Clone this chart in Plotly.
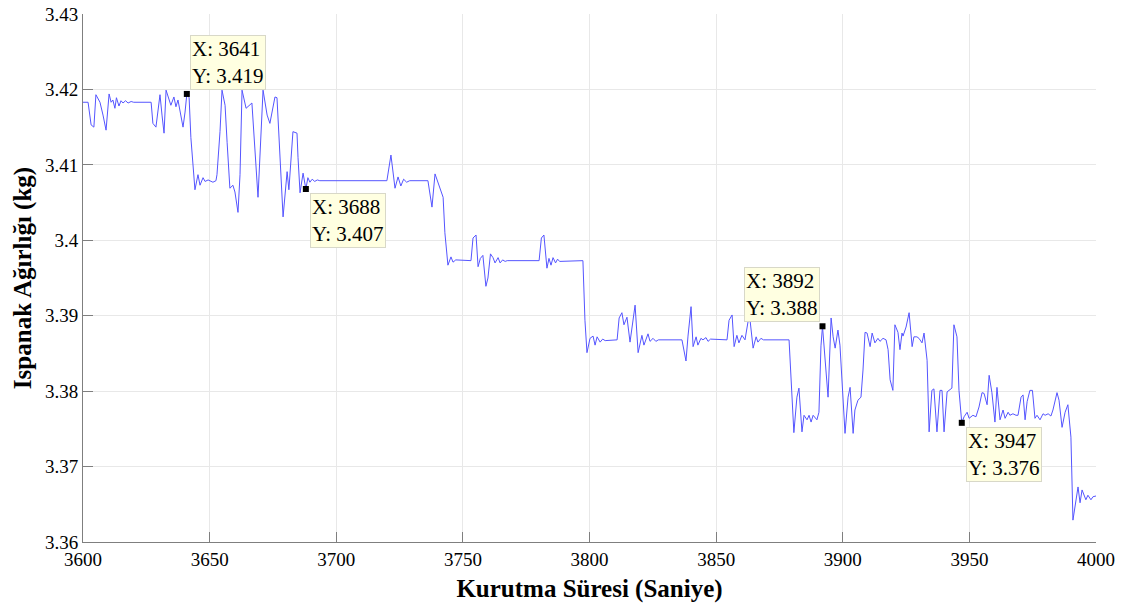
import plotly.graph_objects as go

# Time (s) and weight (kg) vertices
time_s = [
    3600.0, 3602.0, 3603.2, 3604.3, 3605.1, 3606.7, 3607.9, 3609.1, 3610.3, 3611.1,
    3611.8, 3612.6, 3613.2, 3614.2, 3615.0, 3615.8, 3616.8, 3617.8, 3619.0, 3620.0,
    3626.9, 3627.6, 3628.8, 3630.4, 3631.2, 3632.0, 3632.8, 3634.0, 3634.7, 3635.9,
    3636.7, 3637.5, 3638.7, 3639.5, 3640.3, 3641.0, 3641.9, 3642.6, 3644.2, 3645.4,
    3646.2, 3647.4, 3648.2, 3649.4, 3651.3, 3652.5, 3652.9, 3654.1, 3654.9, 3656.1,
    3656.9, 3658.0, 3659.2, 3660.0, 3661.2, 3662.0, 3662.8, 3664.4, 3666.7, 3669.1,
    3671.1, 3672.7, 3673.8, 3675.8, 3676.6, 3677.4, 3679.0, 3680.6, 3681.3, 3682.9,
    3684.5, 3684.9, 3685.7, 3686.9, 3688.0, 3688.8, 3689.6, 3690.5, 3691.5, 3692.5,
    3693.5, 3720.0, 3721.6, 3723.2, 3724.4, 3725.5, 3726.6, 3727.8, 3729.0, 3736.2,
    3737.8, 3739.0, 3740.2, 3742.2, 3742.9, 3744.1, 3745.3, 3746.1, 3747.2, 3753.2,
    3754.0, 3755.2, 3756.0, 3756.9, 3757.9, 3759.1, 3759.9, 3760.9, 3761.9, 3762.7,
    3763.9, 3764.7, 3765.7, 3766.7, 3767.5, 3780.1, 3781.0, 3782.0, 3783.2, 3784.0,
    3784.8, 3785.6, 3786.6, 3787.4, 3788.2, 3797.4, 3798.2, 3799.0, 3800.2, 3801.4,
    3802.2, 3803.0, 3804.2, 3805.2, 3806.2, 3810.9, 3811.7, 3812.8, 3813.6, 3814.8,
    3816.0, 3818.0, 3819.2, 3820.7, 3821.5, 3823.1, 3823.9, 3825.1, 3826.2, 3827.2,
    3836.5, 3838.1, 3838.9, 3840.1, 3840.9, 3842.1, 3842.8, 3844.0, 3844.8, 3846.0,
    3846.8, 3847.8, 3854.3, 3855.1, 3856.3, 3857.1, 3858.2, 3859.0, 3860.2, 3861.4,
    3862.6, 3863.4, 3864.6, 3865.8, 3866.5, 3867.7, 3868.7, 3878.8, 3880.7, 3881.9,
    3882.7, 3883.9, 3884.7, 3885.9, 3886.7, 3887.5, 3888.3, 3889.8, 3890.6, 3891.4,
    3892.0, 3893.4, 3894.2, 3895.4, 3896.2, 3897.0, 3898.1, 3898.9, 3899.7, 3900.9,
    3902.1, 3902.9, 3904.1, 3904.8, 3906.0, 3907.2, 3908.0, 3908.8, 3909.6, 3910.8,
    3911.6, 3912.7, 3913.9, 3914.7, 3915.9, 3917.1, 3917.9, 3918.7, 3919.8, 3920.6,
    3921.8, 3922.6, 3923.4, 3923.8, 3925.0, 3925.8, 3926.2, 3927.4, 3928.1, 3929.3,
    3930.1, 3931.3, 3932.1, 3933.3, 3934.1, 3935.2, 3936.0, 3937.2, 3938.4, 3939.2,
    3940.0, 3941.2, 3942.0, 3943.1, 3943.9, 3945.1, 3945.9, 3947.0, 3947.9, 3949.1,
    3949.9, 3951.4, 3952.6, 3953.8, 3955.0, 3955.8, 3957.0, 3957.8, 3958.9, 3960.1,
    3960.9, 3962.1, 3963.3, 3964.1, 3965.3, 3966.0, 3967.2, 3968.4, 3969.2, 3970.4,
    3971.2, 3972.0, 3972.8, 3973.9, 3974.9, 3975.9, 3976.7, 3977.9, 3979.1, 3979.9,
    3981.1, 3982.2, 3983.0, 3984.6, 3985.4, 3986.6, 3987.8, 3988.9, 3990.1, 3990.9,
    3992.9, 3993.7, 3994.5, 3996.0, 3996.8, 3998.0, 3998.8, 4000.0,
]
weight_kg = [
    3.4183, 3.4183, 3.4153, 3.4150, 3.4193, 3.4183, 3.4166, 3.4146, 3.4194, 3.4183,
    3.4186, 3.4175, 3.4189, 3.4178, 3.4185, 3.4182, 3.4185, 3.4182, 3.4184, 3.4183,
    3.4183, 3.4155, 3.4150, 3.4193, 3.4166, 3.4142, 3.4199, 3.4186, 3.4179, 3.4190,
    3.4177, 3.4186, 3.4166, 3.4150, 3.4170, 3.4194, 3.4189, 3.4136, 3.4067, 3.4087,
    3.4073, 3.4083, 3.4078, 3.4080, 3.4077, 3.4079, 3.4087, 3.4144, 3.4199, 3.4179,
    3.4130, 3.4069, 3.4073, 3.4064, 3.4037, 3.4087, 3.4199, 3.4175, 3.4182, 3.4057,
    3.4199, 3.4166, 3.4155, 3.4190, 3.4189, 3.4133, 3.4031, 3.4091, 3.4067, 3.4144,
    3.4142, 3.4110, 3.4063, 3.4089, 3.4068, 3.4083, 3.4077, 3.4081, 3.4078, 3.4080,
    3.4079, 3.4079, 3.4113, 3.4069, 3.4084, 3.4072, 3.4081, 3.4077, 3.4079, 3.4079,
    3.4044, 3.4088, 3.4077, 3.4057, 3.4010, 3.3967, 3.3978, 3.3971, 3.3974, 3.3973,
    3.4003, 3.4007, 3.3965, 3.3976, 3.3980, 3.3939, 3.3950, 3.3982, 3.3977, 3.3970,
    3.3977, 3.3970, 3.3974, 3.3972, 3.3973, 3.3973, 3.4003, 3.4007, 3.3963, 3.3976,
    3.3967, 3.3977, 3.3970, 3.3975, 3.3972, 3.3973, 3.3894, 3.3851, 3.3870, 3.3873,
    3.3861, 3.3872, 3.3865, 3.3869, 3.3867, 3.3868, 3.3897, 3.3904, 3.3888, 3.3898,
    3.3865, 3.3914, 3.3851, 3.3874, 3.3861, 3.3876, 3.3866, 3.3870, 3.3866, 3.3868,
    3.3868, 3.3840, 3.3873, 3.3912, 3.3859, 3.3872, 3.3861, 3.3870, 3.3868, 3.3871,
    3.3866, 3.3869, 3.3868, 3.3894, 3.3901, 3.3859, 3.3874, 3.3864, 3.3874, 3.3868,
    3.3892, 3.3894, 3.3857, 3.3872, 3.3865, 3.3870, 3.3868, 3.3868, 3.3745, 3.3792,
    3.3804, 3.3746, 3.3768, 3.3762, 3.3768, 3.3759, 3.3768, 3.3762, 3.3772, 3.3860,
    3.3886, 3.3832, 3.3792, 3.3897, 3.3872, 3.3857, 3.3881, 3.3861, 3.3819, 3.3744,
    3.3792, 3.3805, 3.3744, 3.3775, 3.3788, 3.3792, 3.3828, 3.3878, 3.3877, 3.3859,
    3.3877, 3.3864, 3.3870, 3.3866, 3.3870, 3.3868, 3.3855, 3.3815, 3.3801, 3.3888,
    3.3878, 3.3855, 3.3877, 3.3873, 3.3885, 3.3898, 3.3904, 3.3859, 3.3872, 3.3872,
    3.3870, 3.3864, 3.3877, 3.3841, 3.3746, 3.3801, 3.3803, 3.3746, 3.3801, 3.3801,
    3.3746, 3.3799, 3.3801, 3.3804, 3.3888, 3.3872, 3.3801, 3.3758, 3.3766, 3.3772,
    3.3764, 3.3768, 3.3766, 3.3779, 3.3798, 3.3797, 3.3782, 3.3821, 3.3798, 3.3759,
    3.3805, 3.3762, 3.3775, 3.3764, 3.3772, 3.3768, 3.3770, 3.3768, 3.3768, 3.3792,
    3.3795, 3.3762, 3.3786, 3.3801, 3.3801, 3.3764, 3.3768, 3.3762, 3.3770, 3.3768,
    3.3770, 3.3767, 3.3775, 3.3798, 3.3788, 3.3752, 3.3772, 3.3782, 3.3739, 3.3629,
    3.3673, 3.3652, 3.3669, 3.3656, 3.3662, 3.3656, 3.3660, 3.3661,
]

# Data tips shown on the chart
tip_x = [3641, 3688, 3892, 3947]
tip_y = [3.4194, 3.4068, 3.3886, 3.3758]
tip_labels = ["X: 3641<br>Y: 3.419", "X: 3688<br>Y: 3.407",
              "X: 3892<br>Y: 3.388", "X: 3947<br>Y: 3.376"]
tip_side = ["up-right", "down-right", "up-left", "down-right"]

x_ticks = [3600, 3650, 3700, 3750, 3800, 3850, 3900, 3950, 4000]
y_ticks = [3.36, 3.37, 3.38, 3.39, 3.40, 3.41, 3.42, 3.43]
y_tick_text = ["3.36", "3.37", "3.38", "3.39", "3.4", "3.41", "3.42", "3.43"]

FONT = "Liberation Serif, Times New Roman, serif"

fig = go.Figure()
fig.add_trace(go.Scatter(x=time_s, y=weight_kg, mode="lines",
                         line=dict(color="#5555ff", width=1), hoverinfo="skip",
                         showlegend=False))
fig.add_trace(go.Scatter(x=tip_x, y=tip_y, mode="markers",
                         marker=dict(symbol="square", size=6, color="black"),
                         hoverinfo="skip", showlegend=False))

for tx, ty, lab, side in zip(tip_x, tip_y, tip_labels, tip_side):
    if side == "up-right":
        xa, ya, xs, ys = "left", "bottom", 3, 4
    elif side == "down-right":
        xa, ya, xs, ys = "left", "top", 4, -4
    else:
        xa, ya, xs, ys = "right", "bottom", -2, 4
    fig.add_annotation(x=tx, y=ty, text=lab, showarrow=False, align="left",
                       xanchor=xa, yanchor=ya, xshift=xs, yshift=ys,
                       font=dict(family=FONT, size=21, color="black"),
                       bgcolor="#ffffe1", bordercolor="#d8d8c8", borderwidth=1,
                       borderpad=1)

fig.update_layout(
    width=1131, height=610,
    margin=dict(l=83, r=35, t=14, b=68),
    paper_bgcolor="white", plot_bgcolor="white",
    font=dict(family=FONT, size=19, color="black"),
    xaxis=dict(range=[3600, 4000], tickvals=x_ticks, ticks="inside", ticklen=10,
               tickcolor="#7f7f7f", showline=True, linecolor="#7f7f7f",
               linewidth=1, showgrid=True, gridcolor="#e8e8e8", gridwidth=1,
               zeroline=False, mirror=False, automargin=False,
               title=dict(text="<b>Kurutma Süresi (Saniye)</b>",
                          font=dict(family=FONT, size=25), standoff=10),
               tickfont=dict(family=FONT, size=19)),
    yaxis=dict(range=[3.36, 3.43], tickvals=y_ticks, ticktext=y_tick_text,
               ticks="inside", ticklen=10, tickcolor="#7f7f7f", showline=True,
               linecolor="#7f7f7f", linewidth=1, showgrid=True,
               gridcolor="#e8e8e8", gridwidth=1, zeroline=False,
               automargin=False,
               title=dict(text="<b>Ispanak Ağırlığı (kg)</b>",
                          font=dict(family=FONT, size=25), standoff=6),
               tickfont=dict(family=FONT, size=19)),
)

fig.write_html("out.html")
